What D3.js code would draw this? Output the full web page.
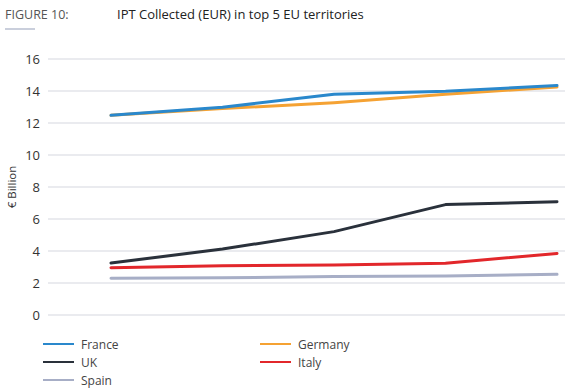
<!DOCTYPE html>
<html>
<head>
<meta charset="utf-8">
<script src="https://cdn.jsdelivr.net/npm/d3@7"></script>
<style>
  body { margin: 0; background: #fff; }
  text { font-family: "Open Sans", "Noto Sans", sans-serif; }
</style>
</head>
<body>
<svg id="chart" width="582" height="391"></svg>
<script>
// periods (no labels shown on the axis)
var periods = ["p1", "p2", "p3", "p4", "p5"];
var yTicks = [0, 2, 4, 6, 8, 10, 12, 14, 16];

var france = [12.48, 12.98, 13.8, 13.98, 14.35];
var germany = [12.48, 12.9, 13.27, 13.79, 14.25];
var uk = [3.25, 4.12, 5.21, 6.9, 7.08];
var italy = [2.96, 3.08, 3.12, 3.23, 3.85];
var spain = [2.29, 2.33, 2.4, 2.44, 2.54];

var seriesNames = ["France", "Germany", "UK", "Italy", "Spain"];
var seriesValues = [france, germany, uk, italy, spain];
var seriesColors = ["#2a88cc", "#f5a233", "#2a313b", "#e2272b", "#a7aec6"];

var svg = d3.select("#chart");

// Header
svg.append("text").attr("x", 5).attr("y", 19)
  .style("font-size", "12.5px").style("fill", "#555")
  .text("FIGURE 10:");
svg.append("line").attr("x1", 5).attr("x2", 35).attr("y1", 29).attr("y2", 29)
  .style("stroke", "#b9bfd0").style("stroke-width", 1.5);
svg.append("text").attr("x", 117).attr("y", 19)
  .style("font-size", "13px").style("fill", "#222").style("font-weight", 500)
  .text("IPT Collected (EUR) in top 5 EU territories");

// Scales
var x = d3.scalePoint().domain(periods).range([111, 557]);
var y = d3.scaleLinear().domain([0, 16]).range([315, 59]);

// Grid
svg.append("g").selectAll("line").data(yTicks).enter().append("line")
  .attr("x1", 48).attr("x2", 565)
  .attr("y1", function(d) { return y(d); })
  .attr("y2", function(d) { return y(d); })
  .style("stroke", "#e3e4ea").style("stroke-width", 1.5);

// Y axis labels
var yAxis = svg.append("g").attr("transform", "translate(40,0)")
  .call(d3.axisLeft(y).tickValues(yTicks).tickSize(0).tickPadding(0));
yAxis.select(".domain").remove();
yAxis.selectAll("text")
  .style("font-size", "13px").style("fill", "#333")
  .style("font-family", "'Open Sans', 'Noto Sans', sans-serif");

svg.append("text")
  .attr("transform", "translate(16,187) rotate(-90)")
  .attr("text-anchor", "middle")
  .style("font-size", "11.5px").style("fill", "#333")
  .text("€ Billion");

// Lines
var line = d3.line()
  .x(function(d, i) { return x(periods[i]); })
  .y(function(d) { return y(d); });

// draw back to front so France sits on top of Germany
var order = [4, 3, 2, 1, 0];
order.forEach(function(k) {
  svg.append("path")
    .datum(seriesValues[k])
    .attr("d", line)
    .style("fill", "none")
    .style("stroke", seriesColors[k])
    .style("stroke-width", 3)
    .style("stroke-linecap", "round")
    .style("stroke-linejoin", "round");
});

// Legend
var legendPos = [
  { x: 43, y: 344 }, { x: 260, y: 344 },
  { x: 43, y: 362 }, { x: 260, y: 362 },
  { x: 43, y: 380 }
];
var legend = svg.append("g").selectAll("g").data(seriesNames).enter().append("g")
  .attr("transform", function(d, i) { return "translate(" + legendPos[i].x + "," + legendPos[i].y + ")"; });
legend.append("line")
  .attr("x1", 0).attr("x2", 31).attr("y1", 0).attr("y2", 0)
  .style("stroke", function(d, i) { return seriesColors[i]; })
  .style("stroke-width", 2);
legend.append("text")
  .attr("x", 38).attr("y", 4.5)
  .style("font-size", "12px").style("fill", "#444")
  .text(function(d) { return d; });
</script>
</body>
</html>
